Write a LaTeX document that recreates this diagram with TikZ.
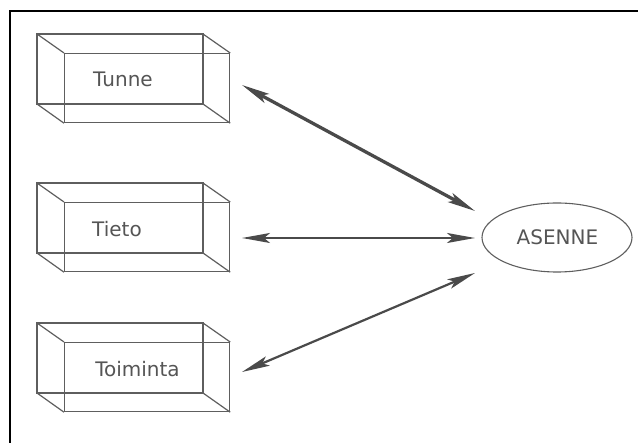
\documentclass[tikz,border=0pt]{standalone}
\usepackage{fontspec}
\setmainfont{DejaVu Sans}
\usetikzlibrary{arrows.meta,shapes.geometric}
\definecolor{edge}{HTML}{5E5E5E}
\definecolor{ink}{HTML}{555555}
\definecolor{arrowgray}{HTML}{4A4A4A}
\tikzset{
  frameline/.style={line width=2pt, black},
  face/.style={draw=edge, line width=1.2pt, minimum width=165pt, minimum height=69pt, inner sep=0pt},
  backface/.style={draw=edge, line width=1.2pt},
  label/.style={font=\fontsize{20}{20}\selectfont, text=ink, anchor=base, inner sep=0pt},
  link/.style={draw=arrowgray, line width=2.2pt,
    {Stealth[length=28pt,width=10pt,inset=6pt]}-{Stealth[length=28pt,width=10pt,inset=6pt]}},
  boldlink/.style={link, line width=3.3pt},
  attitude/.style={ellipse, draw=edge, line width=1.1pt, minimum width=150pt, minimum height=69pt, inner sep=0pt}
}
\begin{document}
\begin{tikzpicture}[x=1pt, y=-1pt]
  \useasboundingbox (0,0) rectangle (638,443);
  % partial frame
  \draw[frameline] (10,443) -- (10,11) -- (638,11);

  % wireframe boxes: back face, front face, connecting edges
  \foreach \name/\y in {tunne/34, tieto/183, toiminta/323} {
    \draw[backface] (37,\y) rectangle (203,\y+70);
    \node[face, anchor=north west] (\name) at (64,\y+19) {};
    \draw[backface] (37,\y) -- (\name.north west)
                    (203,\y) -- (\name.north east)
                    (37,\y+70) -- (\name.south west)
                    (203,\y+70) -- (\name.south east);
  }

  \node[label] (tunnetext) at (123,87) {Tunne};
  \node[label] (tietotext) at (117,237) {Tieto};
  \node[label] (toimintatext) at (137.5,377) {Toiminta};

  % ASENNE ellipse
  \node[attitude] (asenne) at (557,237.5) {};
  \node[label] (asennetext) at (557.5,245) {ASENNE};

  % arrow end points
  \coordinate (a1) at (242,85);
  \coordinate (a2) at (242,238);
  \coordinate (a3) at (242,372);
  \coordinate (b1) at (475,211);
  \coordinate (b2) at (475,238);
  \coordinate (b3) at (475,273);

  \draw[boldlink] (a1) -- (b1);
  \draw[link] (a2) -- (b2);
  \draw[link] (a3) -- (b3);
\end{tikzpicture}
\end{document}
